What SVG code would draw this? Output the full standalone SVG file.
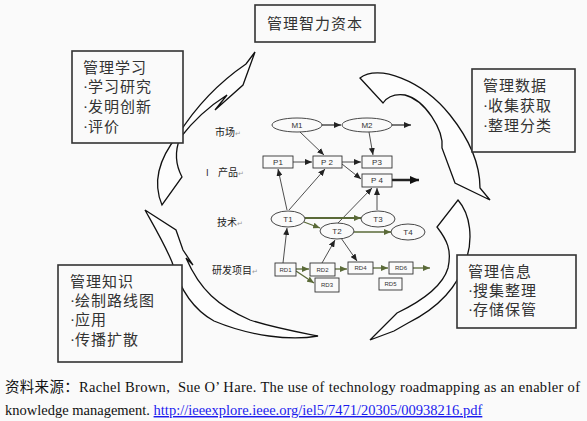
<svg xmlns="http://www.w3.org/2000/svg" width="587" height="421" viewBox="0 0 587 421">
<defs>
<style>
.bg{fill:#fafafa}
.carrow{fill:#fdfdfd;stroke:#111;stroke-width:1.3;stroke-linejoin:miter}
.box{fill:#fafafa;stroke:#333;stroke-width:1.6}
.bt{font-family:"Noto Sans CJK SC","Noto Sans",sans-serif;font-size:15px;fill:#333;letter-spacing:1px}
.dot{font-family:"Liberation Serif",serif;letter-spacing:0}
.lbl{font-family:"Noto Sans CJK SC",sans-serif;font-size:10px;fill:#222}
.ret{font-family:"DejaVu Sans",sans-serif;font-size:7px;fill:#999}
.node{fill:#fafafa;stroke:#333;stroke-width:0.9}
.nt{font-family:"Liberation Sans",sans-serif;font-size:8px;fill:#333;text-anchor:middle}
.rt{font-family:"Liberation Sans",sans-serif;font-size:6px;fill:#333;text-anchor:middle}
.bl{fill:none;stroke:#222;stroke-width:0.8}
.ol{fill:none;stroke:#5a6a38;stroke-width:1.3}
.cap{font-family:"Liberation Serif","Noto Sans CJK SC",serif;font-size:14.5px;fill:#111}
</style>
<marker id="ab" markerUnits="userSpaceOnUse" markerWidth="8" markerHeight="6" refX="7" refY="3" orient="auto"><path d="M0,0 L7,3 L0,6 z" fill="#222"/></marker>
<marker id="ao" markerUnits="userSpaceOnUse" markerWidth="8" markerHeight="6" refX="7" refY="3" orient="auto"><path d="M0,0 L7,3 L0,6 z" fill="#5a6a38"/></marker>
<marker id="at" markerUnits="userSpaceOnUse" markerWidth="10" markerHeight="8" refX="9" refY="4" orient="auto"><path d="M0,0 L9,4 L0,8 z" fill="#111"/></marker>
</defs>
<rect class="bg" x="0" y="0" width="587" height="421"/>

<g id="cycle-arrows">
<path class="carrow" d="M162,205 Q148,172 178,135 Q205,92 246,64 L255,52 L243,85 L215,110 L227,95 Q200,112 180,138 Q172,158 182,177 Z"/>
<path class="carrow" d="M360,78 C378,64 422,80 450,115 C470,140 480,165 480,188 L490,200 L455,183 L442,148 C444,130 425,100 405,95 Q390,93 383,103 Z"/>
<path class="carrow" d="M458,200 C471,215 473,240 466,260 C458,287 438,308 408,323 L394,331 L370,340 L397,313 C424,300 443,285 448,268 C452,250 447,240 437,227 Z"/>
<path class="carrow" d="M145,210 L176,230 L183,250 L193,265 L186,258 C200,290 218,306 250,320 C275,328 298,332 318,336 C290,341 250,336 214,321 C194,310 180,290 172,262 C165,245 155,228 145,210 Z"/>
</g>

<g id="box-capital"><rect class="box" x="255" y="5" width="120" height="37"/><text class="bt" x="315" y="29" text-anchor="middle">管理智力资本</text></g>
<g id="box-learning"><rect class="box" x="72" y="51" width="111" height="92"/>
<text class="bt" x="83" y="73">管理学习</text><text class="bt" x="83" y="92"><tspan class="dot">·</tspan>学习研究</text><text class="bt" x="83" y="112"><tspan class="dot">·</tspan>发明创新</text><text class="bt" x="83" y="132"><tspan class="dot">·</tspan>评价</text></g>
<g id="box-data"><rect class="box" x="472" y="69" width="103" height="83"/>
<text class="bt" x="483" y="91">管理数据</text><text class="bt" x="483" y="111"><tspan class="dot">·</tspan>收集获取</text><text class="bt" x="483" y="131"><tspan class="dot">·</tspan>整理分类</text></g>
<g id="box-knowledge"><rect class="box" x="58" y="265" width="124" height="97"/>
<text class="bt" x="70" y="287">管理知识</text><text class="bt" x="70" y="306"><tspan class="dot">·</tspan>绘制路线图</text><text class="bt" x="70" y="325"><tspan class="dot">·</tspan>应用</text><text class="bt" x="70" y="345"><tspan class="dot">·</tspan>传播扩散</text></g>
<g id="box-info"><rect class="box" x="457" y="255" width="119" height="73"/>
<text class="bt" x="468" y="277">管理信息</text><text class="bt" x="468" y="296"><tspan class="dot">·</tspan>搜集整理</text><text class="bt" x="468" y="315"><tspan class="dot">·</tspan>存储保管</text></g>

<g id="row-labels">
<text class="lbl" x="215" y="136">市场<tspan class="ret">↵</tspan></text>
<text class="lbl" x="206" y="176" style="font-size:9px">I</text>
<text class="lbl" x="218" y="176">产品<tspan class="ret">↵</tspan></text>
<text class="lbl" x="217" y="226">技术<tspan class="ret">↵</tspan></text>
<text class="lbl" x="212" y="274">研发项目<tspan class="ret">↵</tspan></text>
</g>

<g id="connectors">
<path class="bl" d="M322,125 L341,125" marker-end="url(#ab)" style="stroke-width:1.2"/>
<path class="bl" d="M392,125 L411,125" marker-end="url(#ab)" style="stroke-width:1.2"/>
<path class="bl" d="M300,132 L324,155" marker-end="url(#ab)"/>
<path class="bl" d="M369,132 L373,155" marker-end="url(#ab)"/>
<path class="bl" d="M293,162 L312,162" marker-end="url(#ab)"/>
<path class="bl" d="M342,162 L361,162" marker-end="url(#ab)"/>
<path class="bl" d="M342,164 L361,179" marker-end="url(#ab)"/>
<path class="bl" d="M392,180 L419,180" marker-end="url(#at)" style="stroke-width:2.5"/>
<path class="bl" d="M287,210 L278,169" marker-end="url(#ab)"/>
<path class="bl" d="M289,210 L325,169" marker-end="url(#ab)"/>
<path class="bl" d="M338,223 L372,188" marker-end="url(#ab)"/>
<path class="bl" d="M377,210 L377,188" marker-end="url(#ab)"/>
<path class="bl" d="M283,263 L287,228" marker-end="url(#ab)"/>
<path class="bl" d="M322,263 L335,240" marker-end="url(#ab)"/>
<path class="bl" d="M341,238 L357,261" marker-end="url(#ab)"/>
<path class="ol" d="M305,218 L361,218" marker-end="url(#ao)" style="stroke-width:1.8"/>
<path class="ol" d="M304,222 L320,228" marker-end="url(#ao)"/>
<path class="ol" d="M354,232 L391,232" marker-end="url(#ao)"/>
<path class="ol" d="M296,269 L309,269" marker-end="url(#ao)"/>
<path class="ol" d="M296,271 L314,283" marker-end="url(#ao)"/>
<path class="ol" d="M335,269 L347,269" marker-end="url(#ao)"/>
<path class="ol" d="M373,268 L388,268" marker-end="url(#ao)"/>
<path class="ol" d="M413,268 L430,268" marker-end="url(#ao)"/>
</g>

<g id="M1"><ellipse class="node" cx="297" cy="125" rx="25" ry="7"/><text class="nt" x="297" y="128">M1</text></g>
<g id="M2"><ellipse class="node" cx="367" cy="125" rx="25" ry="7"/><text class="nt" x="367" y="128">M2</text></g>
<g id="P1"><rect class="node" x="263" y="156" width="30" height="12"/><text class="nt" x="278" y="165">P1</text></g>
<g id="P2"><rect class="node" x="313" y="156" width="29" height="12"/><text class="nt" x="327" y="165">P 2</text></g>
<g id="P3"><rect class="node" x="362" y="156" width="30" height="12"/><text class="nt" x="377" y="165">P3</text></g>
<g id="P4"><rect class="node" x="362" y="174" width="30" height="13"/><text class="nt" x="377" y="183">P 4</text></g>
<g id="T1"><ellipse class="node" cx="288" cy="219" rx="17" ry="8"/><text class="nt" x="288" y="222">T1</text></g>
<g id="T2"><ellipse class="node" cx="337" cy="231" rx="17" ry="8"/><text class="nt" x="337" y="234">T2</text></g>
<g id="T3"><ellipse class="node" cx="378" cy="219" rx="17" ry="8"/><text class="nt" x="378" y="222">T3</text></g>
<g id="T4"><ellipse class="node" cx="408" cy="232" rx="17" ry="8"/><text class="nt" x="408" y="235">T4</text></g>
<g id="RD1"><rect class="node" x="275" y="263" width="21" height="13"/><text class="rt" x="285.5" y="272">RD1</text></g>
<g id="RD2"><rect class="node" x="310" y="263" width="25" height="13"/><text class="rt" x="322.5" y="272">RD2</text></g>
<g id="RD3"><rect class="node" x="315" y="278" width="24" height="14"/><text class="rt" x="327" y="287">RD3</text></g>
<g id="RD4"><rect class="node" x="348" y="262" width="25" height="12"/><text class="rt" x="360.5" y="270">RD4</text></g>
<g id="RD5"><rect class="node" x="379" y="278" width="23" height="12"/><text class="rt" x="390.5" y="286">RD5</text></g>
<g id="RD6"><rect class="node" x="389" y="262" width="24" height="12"/><text class="rt" x="401" y="270">RD6</text></g>

<g id="caption">
<text class="cap" x="5" y="392" textLength="575" lengthAdjust="spacing">资料来源：Rachel Brown, &#160;Sue O’ Hare. The use of technology roadmapping as an enabler of</text>
<text class="cap" x="5" y="415">knowledge management. <tspan fill="#1a1aee" text-decoration="underline">http://ieeexplore.ieee.org/iel5/7471/20305/00938216.pdf</tspan></text>
</g>
</svg>
